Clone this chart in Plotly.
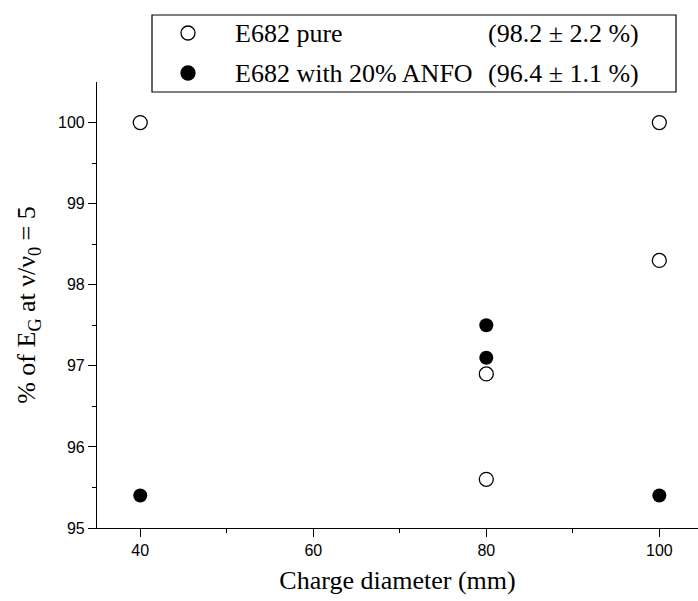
import plotly.graph_objects as go

# Data
open_x = [40, 80, 80, 100, 100]
open_y = [100.0, 96.9, 95.6, 100.0, 98.3]
fill_x = [40, 80, 80, 100]
fill_y = [95.4, 97.5, 97.1, 95.4]
series_names = ["E682 pure", "E682 with 20% ANFO"]
series_stats = ["(98.2 ± 2.2 %)", "(96.4 ± 1.1 %)"]
x_ticks = [40, 60, 80, 100]
y_ticks = [95, 96, 97, 98, 99, 100]

serif = "Liberation Serif, Times New Roman, serif"
sans = "Liberation Sans, Arial, sans-serif"

fig = go.Figure()
fig.add_trace(go.Scatter(
    x=open_x, y=open_y, mode="markers", name=series_names[0],
    marker=dict(symbol="circle-open", size=14, color="black", line=dict(width=1.3, color="black")),
    cliponaxis=False, showlegend=False,
))
fig.add_trace(go.Scatter(
    x=fill_x, y=fill_y, mode="markers", name=series_names[1],
    marker=dict(symbol="circle", size=14, color="black"),
    cliponaxis=False, showlegend=False,
))

L, T, W, H = 97, 82, 601, 446

def px2x(px):
    return (px - L) / W

def px2y(py):
    return 1 - (py - T) / H

# legend box (drawn manually)
fig.add_shape(type="rect", xref="paper", yref="paper",
              x0=px2x(152), x1=px2x(676), y0=px2y(92), y1=px2y(15),
              line=dict(color="black", width=1.2), fillcolor="rgba(0,0,0,0)")
row_y = [33, 73]
fills = ["white", "black"]
for i in range(2):
    fig.add_shape(type="circle", xref="paper", yref="paper",
                  xsizemode="pixel", ysizemode="pixel",
                  xanchor=px2x(188), yanchor=px2y(row_y[i]),
                  x0=-7, x1=7, y0=-7, y1=7,
                  line=dict(color="black", width=1.3), fillcolor=fills[i])
    fig.add_annotation(xref="paper", yref="paper", x=px2x(233), y=px2y(row_y[i]),
                       text=series_names[i], showarrow=False, xanchor="left", yanchor="middle",
                       font=dict(family=serif, size=26, color="black"))
    fig.add_annotation(xref="paper", yref="paper", x=px2x(486), y=px2y(row_y[i]),
                       text=series_stats[i], showarrow=False, xanchor="left", yanchor="middle",
                       font=dict(family=serif, size=26, color="black"))

fig.update_layout(
    width=698, height=601,
    margin=dict(l=L, r=0, t=T, b=601 - T - H),
    paper_bgcolor="white", plot_bgcolor="white",
    font=dict(family=serif, color="black"),
    showlegend=False,
    xaxis=dict(range=[35, 104.47], tickvals=x_ticks, ticks="outside", ticklen=8, tickwidth=1,
               tickcolor="black", showline=True, linecolor="black", linewidth=1.2,
               showgrid=False, zeroline=False,
               minor=dict(tickvals=[50, 70, 90], ticks="outside", ticklen=4, tickcolor="black"),
               tickfont=dict(family=sans, size=16, color="black"),
               title=dict(text="Charge diameter (mm)", font=dict(family=serif, size=26, color="black"),
                          standoff=12)),
    yaxis=dict(range=[95, 100.5], tickvals=y_ticks, ticks="outside", ticklen=8, tickwidth=1,
               tickcolor="black", showline=True, linecolor="black", linewidth=1.2,
               showgrid=False, zeroline=False,
               minor=dict(tickvals=[95.5, 96.5, 97.5, 98.5, 99.5], ticks="outside", ticklen=4,
                          tickcolor="black"),
               tickfont=dict(family=sans, size=16, color="black"),
               title=dict(text="% of E<sub>G</sub> at ν/ν<sub>0</sub> = 5",
                          font=dict(family=serif, size=26, color="black"), standoff=14)),
)

fig.write_html("out.html")
